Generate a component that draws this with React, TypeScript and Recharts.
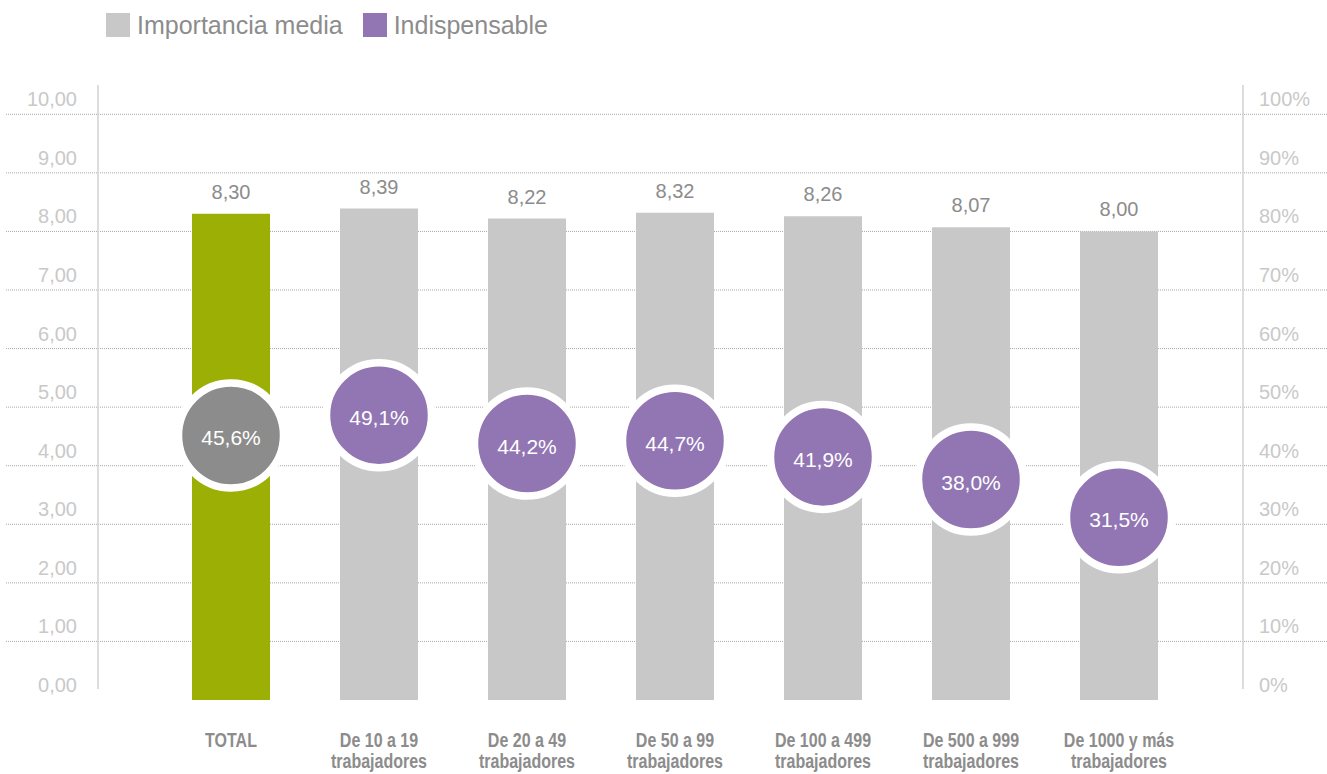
import React from "react";
import {
  ComposedChart,
  Bar,
  Line,
  XAxis,
  YAxis,
  CartesianGrid,
  Cell,
  LabelList,
  Legend,
} from "recharts";

// ---------- data ----------
const CATEGORIES = [
  "TOTAL",
  "De 10 a 19\ntrabajadores",
  "De 20 a 49\ntrabajadores",
  "De 50 a 99\ntrabajadores",
  "De 100 a 499\ntrabajadores",
  "De 500 a 999\ntrabajadores",
  "De 1000 y más\ntrabajadores",
];
const IMPORTANCIA_MEDIA = [8.3, 8.39, 8.22, 8.32, 8.26, 8.07, 8.0];
const INDISPENSABLE = [45.6, 49.1, 44.2, 44.7, 41.9, 38.0, 31.5];
const LEFT_TICKS = [0, 1, 2, 3, 4, 5, 6, 7, 8, 9, 10];
const RIGHT_TICKS = [0, 10, 20, 30, 40, 50, 60, 70, 80, 90, 100];
const GRID_VALUES = [1, 2, 3, 4, 5, 6, 7, 8, 9, 10];
const LEGEND_ITEMS = ["Importancia media", "Indispensable"];

// ---------- styles ----------
const GREEN = "#9caf05";
const BAR_GRAY = "#c8c8c8";
const PURPLE = "#9275b3";
const CIRCLE_GRAY = "#8c8c8c";
const TEXT_GRAY = "#8c8c8c";
const TICK_GRAY = "#c9c9c9";
const AXIS_GRAY = "#d2d2d2";
const FONT = "'Liberation Sans', Arial, Helvetica, sans-serif";

const data = CATEGORIES.map((name, i) => ({
  name,
  importancia: IMPORTANCIA_MEDIA[i],
  indispensable: INDISPENSABLE[i],
}));

const fmt2 = (v: number) => v.toFixed(2).replace(".", ",");
const fmtPct = (v: number) => v.toFixed(1).replace(".", ",") + "%";

const LeftTick = (props: any) => {
  const { x, y, payload } = props;
  return (
    <text
      x={x}
      y={y - 15}
      textAnchor="end"
      dominantBaseline="central"
      fill={TICK_GRAY}
      fontSize={20}
      fontFamily={FONT}
    >
      {fmt2(payload.value)}
    </text>
  );
};

const RightTick = (props: any) => {
  const { x, y, payload } = props;
  return (
    <text
      x={x}
      y={y - 15}
      textAnchor="start"
      dominantBaseline="central"
      fill={TICK_GRAY}
      fontSize={20}
      fontFamily={FONT}
    >
      {payload.value + "%"}
    </text>
  );
};

const XTick = (props: any) => {
  const { x, y, payload } = props;
  const lines = String(payload.value).split("\n");
  return (
    <g transform={`translate(${x},${y}) scale(0.8,1)`}>
      <text
        x={0}
        y={0}
        textAnchor="middle"
        fill={TEXT_GRAY}
        fontSize={20}
        fontWeight="bold"
        fontFamily={FONT}
      >
        {lines.map((l, i) => (
          <tspan key={i} x={0} dy={i === 0 ? 47 : 21}>
            {l}
          </tspan>
        ))}
      </text>
    </g>
  );
};

const BarValueLabel = (props: any) => {
  const { x, y, width, value } = props;
  return (
    <text
      x={Number(x) + Number(width) / 2}
      y={Number(y) - 15}
      textAnchor="middle"
      fill={TEXT_GRAY}
      fontSize={20}
      fontFamily={FONT}
    >
      {fmt2(Number(value))}
    </text>
  );
};

const CircleDot = (props: any) => {
  const { cx, cy, index, value } = props;
  if (cx == null || cy == null) return <g key={`d-${index}`} />;
  return (
    <g key={`d-${index}`}>
      <circle
        cx={cx}
        cy={cy}
        r={52.5}
        fill={index === 0 ? CIRCLE_GRAY : PURPLE}
        stroke="#ffffff"
        strokeWidth={7.5}
      />
      <text
        x={cx}
        y={cy + 10}
        textAnchor="middle"
        fill="#ffffff"
        fontSize={21}
        fontFamily={FONT}
      >
        {fmtPct(Number(value))}
      </text>
    </g>
  );
};

const GridLine = (props: any) => {
  const { y1, y2, index } = props;
  return (
    <line
      key={`g-${index}-${y1}`}
      x1={6}
      x2={1327}
      y1={y1}
      y2={y2}
      stroke="#a8a8a8"
      strokeWidth={1}
      strokeDasharray="1 1"
    />
  );
};

const LegendContent = () => (
  <div
    style={{
      height: 48,
      display: "flex",
      alignItems: "center",
      paddingLeft: 106,
      paddingTop: 2,
      boxSizing: "border-box",
      fontFamily: FONT,
    }}
  >
    {LEGEND_ITEMS.map((label, i) => (
      <div
        key={label}
        style={{ display: "flex", alignItems: "center", marginRight: 20 }}
      >
        <div
          style={{
            width: 24,
            height: 24,
            background: i === 0 ? BAR_GRAY : PURPLE,
            marginRight: 7,
          }}
        />
        <span style={{ fontSize: 25, color: TEXT_GRAY, lineHeight: "30px" }}>
          {label}
        </span>
      </div>
    ))}
  </div>
);

export default function App() {
  return (
    <div
      style={{
        position: "absolute",
        left: 0,
        top: 0,
        width: 1327,
        height: 774,
        background: "#ffffff",
      }}
    >
      <ComposedChart
        width={1327}
        height={774}
        data={data}
        margin={{ top: 37, right: 0, bottom: 0, left: 0 }}
      >
        <Legend
          verticalAlign="top"
          align="left"
          height={48}
          wrapperStyle={{ top: 0, left: 0 }}
          content={LegendContent}
        />
        <CartesianGrid
          vertical={false}
          horizontal={GridLine}
          horizontalValues={GRID_VALUES}
        />
        <XAxis
          dataKey="name"
          axisLine={false}
          tickLine={false}
          tickSize={0}
          tickMargin={0}
          height={74}
          padding={{ left: 59, right: 50 }}
          interval={0}
          tick={XTick}
        />
        <YAxis
          domain={[0, 10.5]}
          ticks={LEFT_TICKS}
          width={98}
          tickLine={false}
          tickSize={0}
          tickMargin={21}
          axisLine={{ stroke: AXIS_GRAY, strokeWidth: 1.5, strokeDasharray: "604 100" }}
          tick={LeftTick}
          interval={0}
        />
        <YAxis
          yAxisId="right"
          orientation="right"
          type="number"
          domain={[0, 105]}
          allowDataOverflow
          ticks={RIGHT_TICKS}
          width={84}
          tickLine={false}
          tickSize={0}
          tickMargin={16}
          axisLine={{ stroke: AXIS_GRAY, strokeWidth: 1.5, strokeDasharray: "604 100" }}
          tick={RightTick}
          interval={0}
        />
        <YAxis yAxisId="pct" domain={[0, 106]} hide />
        <Bar dataKey="importancia" barSize={78} isAnimationActive={false}>
          {data.map((_, i) => (
            <Cell key={i} fill={i === 0 ? GREEN : BAR_GRAY} />
          ))}
          <LabelList dataKey="importancia" content={BarValueLabel} />
        </Bar>
        <Line
          yAxisId="pct"
          dataKey="indispensable"
          stroke="none"
          dot={CircleDot}
          activeDot={false}
          isAnimationActive={false}
        />
      </ComposedChart>
    </div>
  );
}
